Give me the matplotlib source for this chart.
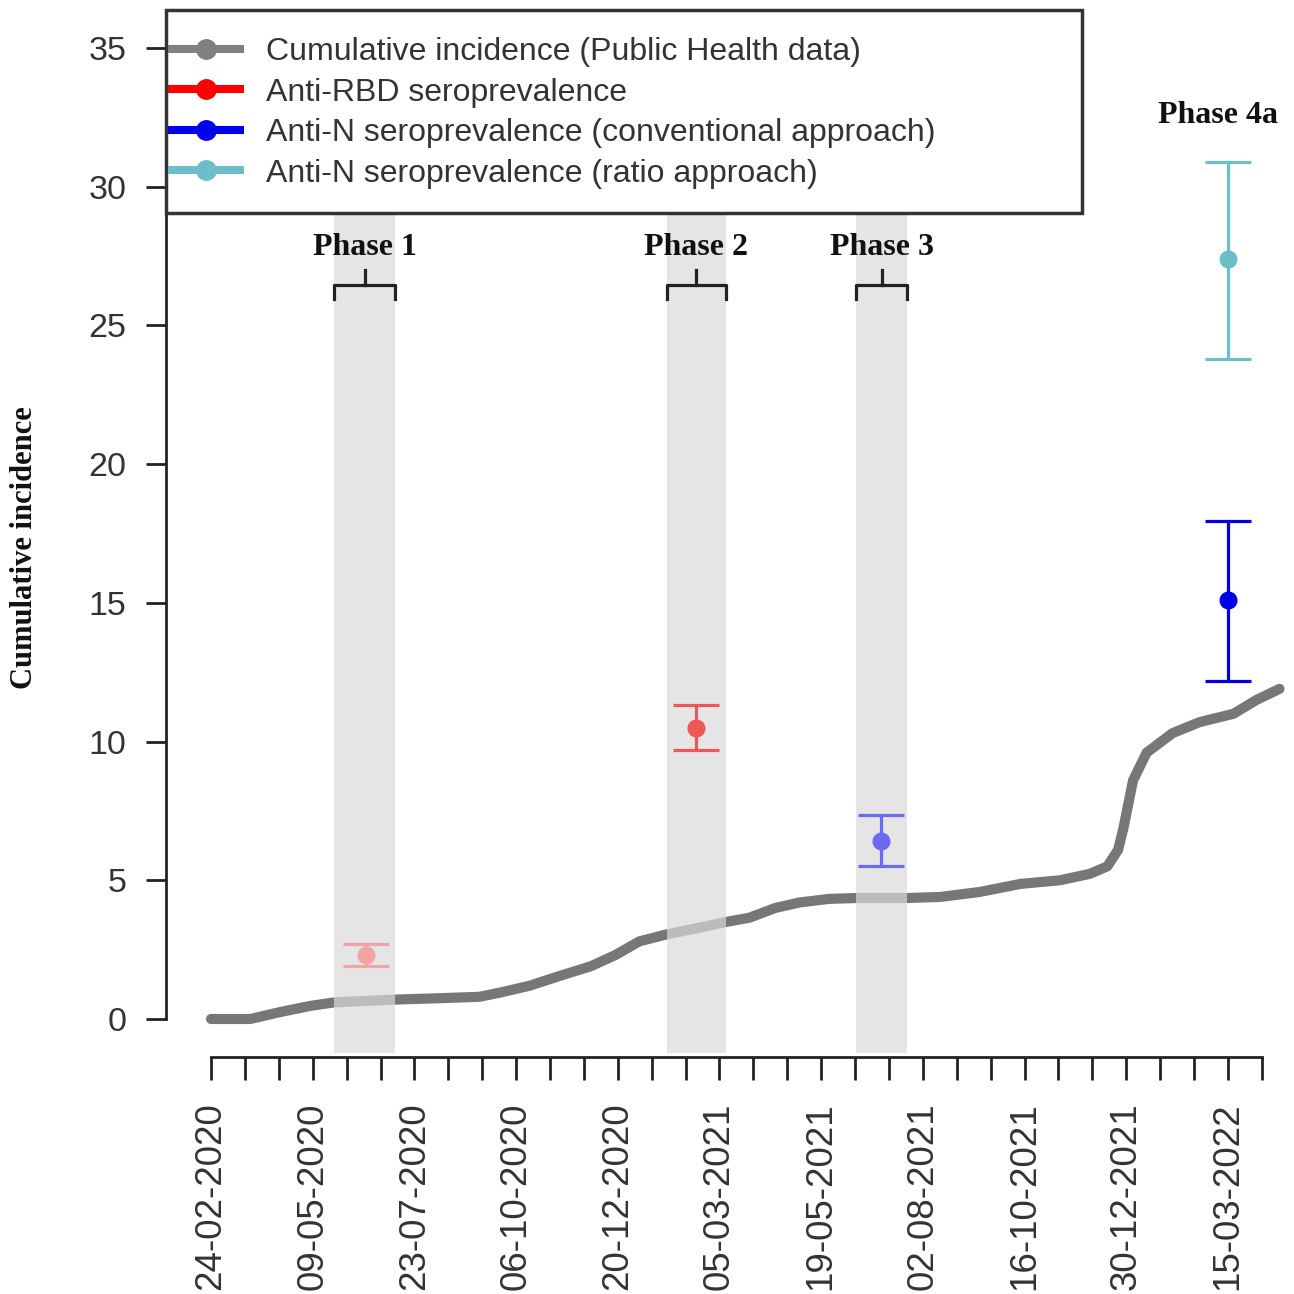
import matplotlib
matplotlib.use("Agg")
import matplotlib.pyplot as plt
import matplotlib.dates as mdates
import pandas as pd
from matplotlib.lines import Line2D
from matplotlib.patches import Rectangle

# cumulative incidence (public health data)
ci_dates = ['2020-02-24', '2020-03-24', '2020-04-15', '2020-05-07', '2020-05-25',
            '2020-07-09', '2020-08-11', '2020-09-09', '2020-09-24', '2020-10-16',
            '2020-11-07', '2020-11-30', '2020-12-18', '2021-01-05', '2021-01-25',
            '2021-02-19', '2021-03-10', '2021-03-27', '2021-04-15', '2021-05-03',
            '2021-05-25', '2021-06-14', '2021-07-21', '2021-08-15', '2021-09-13',
            '2021-10-13', '2021-11-11', '2021-12-03', '2021-12-16', '2021-12-24',
            '2021-12-28', '2022-01-04', '2022-01-14', '2022-02-02', '2022-02-22',
            '2022-03-19', '2022-04-05', '2022-04-22']
ci_values = [0.0, 0.0, 0.25, 0.47, 0.6,
             0.7, 0.75, 0.8, 0.95, 1.2,
             1.55, 1.9, 2.3, 2.8, 3.05,
             3.3, 3.5, 3.65, 4.0, 4.2,
             4.33, 4.36, 4.36, 4.4, 4.58,
             4.87, 5.0, 5.23, 5.5, 6.1,
             6.9, 8.6, 9.6, 10.3, 10.7,
             11.0, 11.5, 11.9]

# seroprevalence estimates with 95% CI
rbd_dates = ['2020-06-17', '2021-02-16']
rbd_est = [2.3, 10.5]
rbd_lo = [1.9, 9.7]
rbd_hi = [2.7, 11.3]
rbd_colors = ['#f2a3a3', '#ec5858']

nconv_dates = ['2021-07-02', '2022-03-15']
nconv_est = [6.4, 15.1]
nconv_lo = [5.5, 12.2]
nconv_hi = [7.35, 17.95]
nconv_colors = ['#6b6bef', '#0000e6']

nratio_dates = ['2022-03-15']
nratio_est = [27.4]
nratio_lo = [23.8]
nratio_hi = [30.9]
nratio_colors = ['#6cbec8']

# sampling phases
phase_names = ['Phase 1', 'Phase 2', 'Phase 3']
phase_starts = ['2020-05-25', '2021-01-25', '2021-06-14']
phase_ends = ['2020-07-09', '2021-03-10', '2021-07-21']

legend_labels = ['Cumulative incidence (Public Health data)',
                 'Anti-RBD seroprevalence',
                 'Anti-N seroprevalence (conventional approach)',
                 'Anti-N seroprevalence (ratio approach)']
legend_colors = ['#808080', '#ff0000', '#0000ee', '#6cbec8']

start = pd.Timestamp('2020-02-24')
tick_dates = pd.date_range(start, periods=32, freq='25D')

W = 1294
fig = plt.figure(figsize=(12.94, 12.94), dpi=100)
ax = fig.add_axes([166 / W, (W - 1057) / W, 1 - 166 / W, 1057 / W])

ax.plot(pd.to_datetime(ci_dates), ci_values, color='#777777', lw=7.3,
        solid_capstyle='round', solid_joinstyle='round', zorder=1)

for s, e in zip(phase_starts, phase_ends):
    ax.axvspan(pd.Timestamp(s), pd.Timestamp(e), ymin=0.004, ymax=0.985,
               color='#dadada', alpha=0.7, lw=0, zorder=2)


def draw_err(dates, est, lo, hi, colors):
    for d, m, l, h, c in zip(dates, est, lo, hi, colors):
        ax.errorbar(pd.Timestamp(d), m, yerr=[[m - l], [h - m]], fmt='o', color=c,
                    ms=12, elinewidth=2.3, capsize=16.5, capthick=2.3, zorder=3)


draw_err(rbd_dates, rbd_est, rbd_lo, rbd_hi, rbd_colors)
draw_err(nconv_dates, nconv_est, nconv_lo, nconv_hi, nconv_colors)
draw_err(nratio_dates, nratio_est, nratio_lo, nratio_hi, nratio_colors)

# phase labels and brackets
for name, s, e in zip(phase_names, phase_starts, phase_ends):
    s, e = pd.Timestamp(s), pd.Timestamp(e)
    mid = s + (e - s) / 2
    ax.plot([s, s, e, e], [25.95, 26.46, 26.46, 25.95], color='#222222', lw=2.3, zorder=4)
    ax.plot([mid, mid], [26.46, 27.0], color='#222222', lw=2.3, zorder=4)
    ax.text(mid, 27.8, name, ha='center', va='center', fontsize=23,
            family='Liberation Serif', fontweight='bold', color='#111111')
ax.text(pd.Timestamp('2022-03-08'), 32.55, 'Phase 4a', ha='center', va='center',
        fontsize=23, family='Liberation Serif', fontweight='bold', color='#111111')

ax.set_xlim(start - pd.Timedelta(days=33.2), start + pd.Timedelta(days=798.7))
ax.set_ylim(-1.37, 36.73)

for sp in ['top', 'right']:
    ax.spines[sp].set_visible(False)
ax.spines['left'].set_bounds(0, 35)
ax.spines['bottom'].set_bounds(mdates.date2num(tick_dates[0]), mdates.date2num(tick_dates[-1]))
for sp in ['left', 'bottom']:
    ax.spines[sp].set_linewidth(2)
    ax.spines[sp].set_color('#222222')

ax.set_yticks(range(0, 36, 5))
ax.set_xticks(tick_dates)
ax.set_xticklabels([d.strftime('%d-%m-%Y') if i % 3 == 0 else '' for i, d in enumerate(tick_dates)])
ax.tick_params(axis='y', length=14.5, width=2, color='#222222', pad=14,
               labelsize=24.5, labelcolor='#333333')
ax.tick_params(axis='x', length=16.5, width=2, color='#222222', pad=16,
               labelsize=26.5, labelcolor='#333333', labelrotation=90)
for lab in ax.get_xticklabels() + ax.get_yticklabels():
    lab.set_family('Liberation Sans')

fig.text(25 / W, 1 - 548 / W, 'Cumulative incidence', rotation=90,
         ha='center', va='center', fontsize=22, family='Liberation Serif',
         fontweight='bold', color='#111111')

# legend box drawn separately so the entries can sit close to its left edge
box = Rectangle((166 / W, 1 - 213 / W), (1082 - 166) / W, 203 / W,
                transform=fig.transFigure, facecolor='white', edgecolor='#333333',
                lw=2.5, zorder=8)
fig.patches.append(box)

handles = [Line2D([], [], color=c, lw=5.8, marker='o', ms=14) for c in legend_colors]
leg = fig.legend(handles, legend_labels, loc='upper left',
                 bbox_to_anchor=(172 / W, 1 - 37 / W),
                 bbox_transform=fig.transFigure, borderaxespad=0, borderpad=0,
                 frameon=False, prop={'family': 'Liberation Sans', 'size': 23},
                 handlelength=2.13, handletextpad=0.8, labelspacing=0.33)
for t in leg.get_texts():
    t.set_color('#333333')
leg.set_zorder(10)

fig.savefig('out.png', dpi=100)
